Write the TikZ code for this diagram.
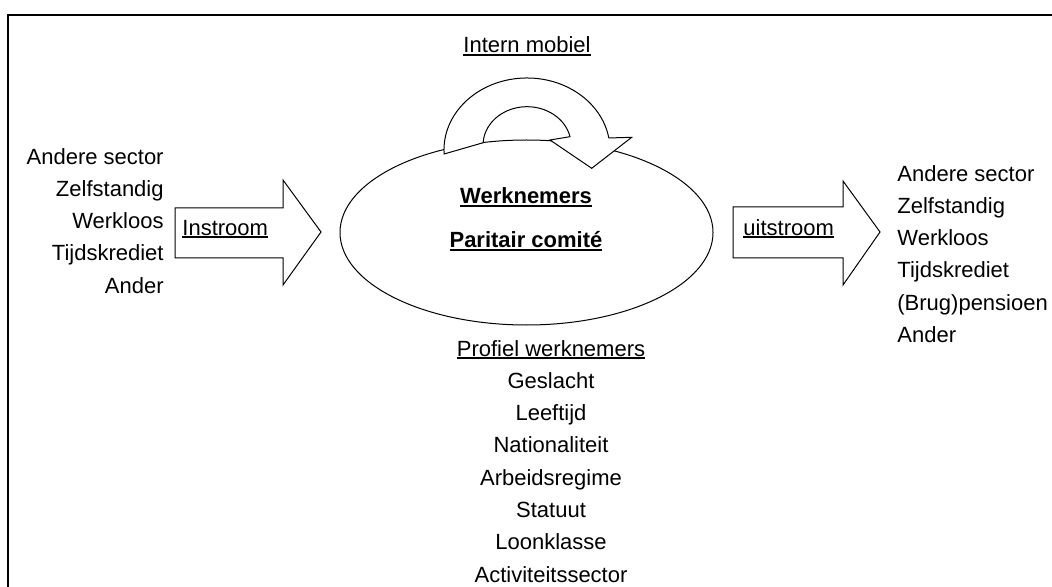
\documentclass[tikz,border=0pt]{standalone}
\usepackage{fontspec}
\setmainfont{Liberation Sans}
\newlength{\du}
\setlength{\du}{5pt}
\newcommand{\onderlijn}[1]{\setbox0\hbox{#1}\rlap{\rule[-1.3pt]{\wd0}{0.6pt}}\box0}
\tikzset{
  lbl/.style={inner sep=0pt, font=\fontsize{11}{13}\selectfont},
  vorm/.style={line width=0.1\du, fill=white, draw=black, line join=miter},
  kader/.style={line width=0.15\du, draw=black},
}
\begin{document}
\begin{tikzpicture}
\pgftransformxscale{1.000000}
\pgftransformyscale{-1.000000}
\definecolor{dialinecolor}{rgb}{0.000000, 0.000000, 0.000000}
\clip (0\du,0\du) rectangle (105.2\du,58.7\du);
\fill[white] (0\du,0\du) rectangle (105.2\du,58.7\du);
% kader
\draw[kader] (0.8\du,70\du)--(0.8\du,1.5\du)--(110\du,1.5\du);
% ellips
\draw[vorm] (52.65\du,23.25\du) ellipse [x radius=18.65\du, y radius=9.25\du];
% lus
\draw[vorm] (44.41\du,15.40\du) arc [start angle=176.8, end angle=350.4, x radius=8.3\du, y radius=7.2\du]
  --(63.17\du,13.73\du)--(59.17\du,16.83\du)--(55.0\du,14.0\du)--(57.0\du,13.67\du)
  arc [start angle=347.5, end angle=183.4, x radius=4.4\du, y radius=3.83\du]--cycle;
% pijlen
\draw[vorm] (17.5\du,20.8\du)--(28.3\du,20.8\du)--(28.3\du,18.0\du)--(32.1\du,23.2\du)--(28.3\du,28.5\du)--(28.3\du,25.8\du)--(17.5\du,25.8\du)--cycle;
\draw[vorm] (73.3\du,20.7\du)--(84.3\du,20.7\du)--(84.3\du,18.1\du)--(88.0\du,23.2\du)--(84.3\du,28.5\du)--(84.3\du,25.8\du)--(73.3\du,25.8\du)--cycle;
% teksten
\node[lbl, anchor=base] (intern) at (52.7\du,5.3\du){\onderlijn{Intern mobiel}};
\node[lbl, anchor=base, font=\fontsize{11}{13}\selectfont\bfseries] (werknemers) at (52.6\du,20.4\du){\onderlijn{Werknemers}};
\node[lbl, anchor=base, font=\fontsize{11}{13}\selectfont\bfseries] (comite) at (52.6\du,24.8\du){\onderlijn{Paritair comité}};
\node[lbl, anchor=base west] (instroom) at (18.2\du,23.5\du){\onderlijn{Instroom}};
\node[lbl, anchor=base west] (uitstroom) at (74.3\du,23.5\du){\onderlijn{uitstroom}};
% van
\node[lbl, anchor=base east] (inSector) at (16.4\du,16.5\du){Andere sector};
\node[lbl, anchor=base east] (inZelf) at (16.4\du,19.7\du){Zelfstandig};
\node[lbl, anchor=base east] (inWerkloos) at (16.4\du,22.9\du){Werkloos};
\node[lbl, anchor=base east] (inKrediet) at (16.4\du,26.1\du){Tijdskrediet};
\node[lbl, anchor=base east] (inAnder) at (16.4\du,29.3\du){Ander};
% naar
\node[lbl, anchor=base west] (uitSector) at (89.7\du,18.2\du){Andere sector};
\node[lbl, anchor=base west] (uitZelf) at (89.7\du,21.4\du){Zelfstandig};
\node[lbl, anchor=base west] (uitWerkloos) at (89.7\du,24.6\du){Werkloos};
\node[lbl, anchor=base west] (uitKrediet) at (89.7\du,27.8\du){Tijdskrediet};
\node[lbl, anchor=base west] (uitPensioen) at (89.7\du,31.0\du){(Brug)pensioen};
\node[lbl, anchor=base west] (uitAnder) at (89.7\du,34.2\du){Ander};
% profiel
\node[lbl, anchor=base] (profiel) at (55.1\du,35.6\du){\onderlijn{Profiel werknemers}};
\node[lbl, anchor=base] (geslacht) at (55.1\du,38.83\du){Geslacht};
\node[lbl, anchor=base] (leeftijd) at (55.1\du,42.06\du){Leeftijd};
\node[lbl, anchor=base] (nationaliteit) at (55.1\du,45.29\du){Nationaliteit};
\node[lbl, anchor=base] (regime) at (55.1\du,48.52\du){Arbeidsregime};
\node[lbl, anchor=base] (statuut) at (55.1\du,51.75\du){Statuut};
\node[lbl, anchor=base] (loonklasse) at (55.1\du,54.98\du){Loonklasse};
\node[lbl, anchor=base] (activiteit) at (55.1\du,58.21\du){Activiteitssector};
\end{tikzpicture}
\end{document}
